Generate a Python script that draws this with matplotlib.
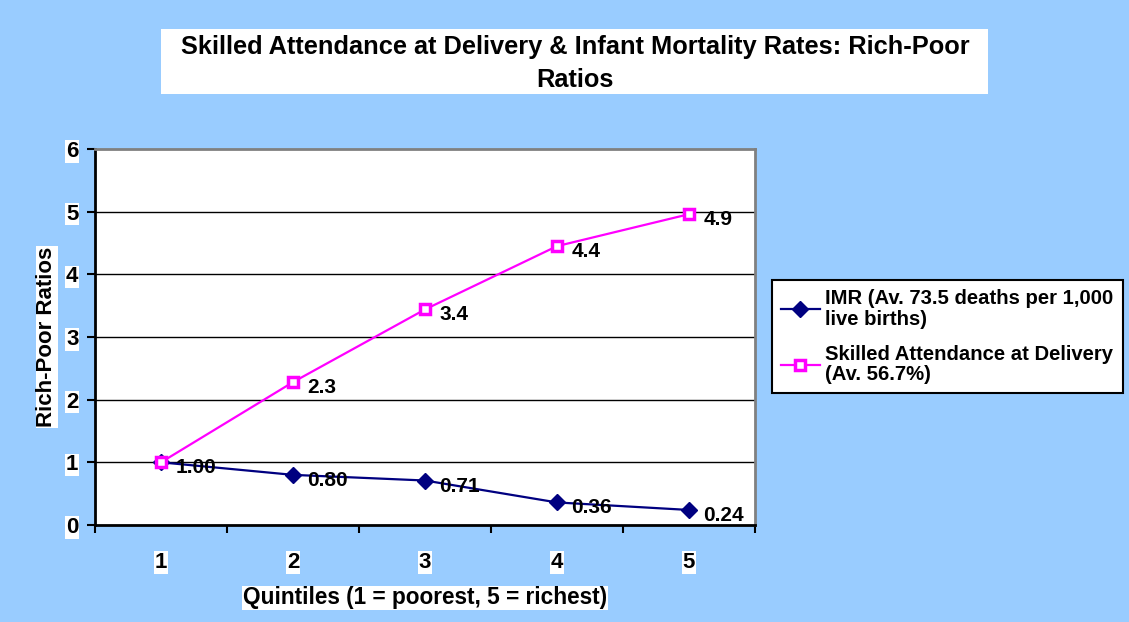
import matplotlib.pyplot as plt
from matplotlib.patches import Rectangle

plt.rcParams['font.family'] = ['Liberation Sans', 'DejaVu Sans']

# Data
quintiles = [1, 2, 3, 4, 5]
imr_ratio = [1.00, 0.80, 0.71, 0.36, 0.24]
imr_labels = ["1.00", "0.80", "0.71", "0.36", "0.24"]
sba_ratio = [1.00, 2.28, 3.44, 4.45, 4.96]
sba_labels = ["", "2.3", "3.4", "4.4", "4.9"]
y_ticks = [0, 1, 2, 3, 4, 5, 6]

BG = "#99CCFF"
NAVY = "#000080"
PINK = "#FF00FF"
W, H = 1129, 622

fig = plt.figure(figsize=(W / 100, H / 100), dpi=100, facecolor=BG)
ax = fig.add_axes([95 / W, 97 / H, 660 / W, 376 / H])
ax.set_facecolor("white")

ax.plot(quintiles, imr_ratio, color=NAVY, linewidth=1.6, marker="D", markersize=8,
        markerfacecolor=NAVY, markeredgecolor=NAVY,
        label="IMR (Av. 73.5 deaths per 1,000\nlive births)", zorder=3)
ax.plot(quintiles, sba_ratio, color=PINK, linewidth=1.6, marker="s", markersize=7,
        markerfacecolor="white", markeredgecolor=PINK, markeredgewidth=2.5,
        label="Skilled Attendance at Delivery\n(Av. 56.7%)", zorder=4)

# data labels
for x, y, t in zip(quintiles, imr_ratio, imr_labels):
    ax.annotate(t, (x, y), xytext=(10.5, -4), textcoords="offset points",
                fontsize=15, fontweight="bold", va="center", ha="left", zorder=5)
for x, y, t in zip(quintiles, sba_ratio, sba_labels):
    if t:
        ax.annotate(t, (x, y), xytext=(10.5, -4), textcoords="offset points",
                    fontsize=15, fontweight="bold", va="center", ha="left", zorder=5)

ax.set_xlim(0.5, 5.5)
ax.set_ylim(0, 6)
ax.set_yticks(y_ticks)
ax.set_xticks([0.5, 1.5, 2.5, 3.5, 4.5, 5.5])
ax.set_xticklabels([])
ax.tick_params(axis="x", direction="out", length=6, width=1.5)
ax.tick_params(axis="y", direction="out", length=6, width=1.5, pad=6)
for lbl in ax.get_yticklabels():
    lbl.set_fontweight("bold")
    lbl.set_fontsize(16)
    lbl.set_bbox(dict(facecolor="white", edgecolor="none", pad=0.5))

# category labels
for q in quintiles:
    ax.text(q, -0.6, str(q), ha="center", va="center", fontsize=16,
            fontweight="bold", bbox=dict(facecolor="white", edgecolor="none", pad=0.5))

for yv in y_ticks[1:-1]:
    ax.axhline(yv, color="black", linewidth=1, zorder=1)

for side in ["left", "bottom"]:
    ax.spines[side].set_linewidth(2)
for side in ["top", "right"]:
    ax.spines[side].set_color("#808080")
    ax.spines[side].set_linewidth(2)

ax.set_ylabel("Rich-Poor Ratios", fontsize=16, fontweight="bold",
              bbox=dict(facecolor="white", edgecolor="none", pad=0.5))
ax.yaxis.set_label_coords(-0.057, 0.5)
ax.set_xlabel("Quintiles (1 = poorest, 5 = richest)", fontsize=16.3, fontweight="bold",
              bbox=dict(facecolor="white", edgecolor="none", pad=0.5))
ax.xaxis.set_label_coords(0.5, -0.163)

# title in its white box
fig.patches.append(Rectangle((161 / W, 1 - 94 / H), 827 / W, 65 / H,
                             transform=fig.transFigure, facecolor="white",
                             edgecolor="none", zorder=0))
fig.text(575 / W, 1 - 63.5 / H,
         "Skilled Attendance at Delivery & Infant Mortality Rates: Rich-Poor\nRatios",
         ha="center", va="center", fontsize=18.3, fontweight="bold", linespacing=1.45)

leg = fig.legend(loc="upper left", bbox_to_anchor=(772 / W, 1 - 280 / H),
                 frameon=True, fancybox=False, edgecolor="black", framealpha=1,
                 prop=dict(size=14.6, weight="bold"), handlelength=1.9,
                 handletextpad=0.28, borderpad=0.45, labelspacing=0.8,
                 borderaxespad=0)
leg.get_frame().set_linewidth(1.5)
for t in leg.get_texts():
    t.set_linespacing(1.1)

fig.savefig("out.png", dpi=100, facecolor=BG)
